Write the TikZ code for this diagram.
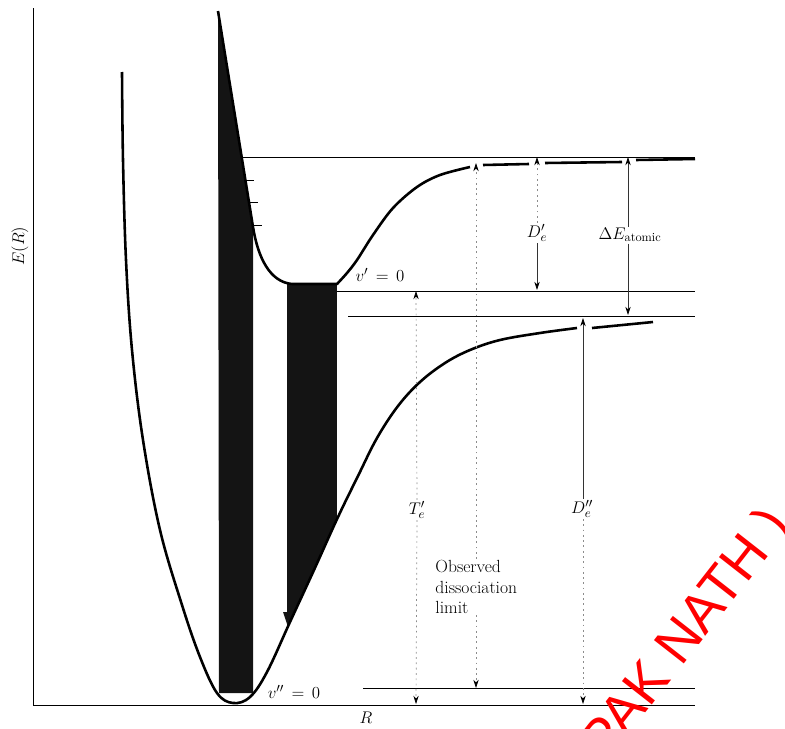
\documentclass[tikz,border=0pt]{standalone}
\usepackage{tikz}
\usetikzlibrary{arrows.meta,positioning,calc}
\usepackage{amsmath,amssymb}
\usepackage{fontspec}
\newfontfamily\marksans{Liberation Sans}
\definecolor{markred}{RGB}{255,0,0}
\definecolor{bandgray}{RGB}{20,20,20}

\begin{document}
\begin{tikzpicture}[x=0.03cm,y=-0.03cm,
    pes/.style={line width=2.2pt,line join=round},
    lvl/.style={line width=0.7pt},
    tip/.style={-{Stealth[length=7pt,width=4.5pt,color=black]}},
    faint/.style={line width=0.6pt,black!45,dash pattern=on 1.5pt off 3pt},
    solidarr/.style={line width=0.6pt,black!80},
    band/.style={fill=bandgray,draw=none},
    lbl/.style={font=\fontsize{15}{17.5}\selectfont,inner sep=1pt},
    axlbl/.style={font=\fontsize{14}{16}\selectfont,inner sep=1pt},
  ]
  \useasboundingbox (0,0) rectangle (785,728);
  \def\lowerpes{plot[smooth,tension=0.6] coordinates {(122,72) (123,160) (126,260)
      (132,350) (143,440) (160,530) (182,605) (200,657) (217,693) (233,703)
      (250,697) (267,672) (290,622) (314,570) (338,517) (358,476) (377,438)
      (398,406) (420,382) (445,363) (470,350) (500,340) (540,333) (577,328)}}

  % axes
  \coordinate (ytop) at (33,8);
  \coordinate (orig) at (33,705);
  \coordinate (xend) at (695,705);
  \draw[lvl] (ytop) -- (orig) -- (xend);
  \node[axlbl,rotate=90] (ylab) at (20,246) {$E(R)$};
  \node[axlbl] (xlab) at (366,718) {$R$};

  % absorption / emission bands
  \fill[band] (218,11) -- (253,227) -- (253,693) -- (219,693) -- cycle;
  \begin{scope}
    \clip \lowerpes -- (700,0) -- (100,0) -- cycle;
    \fill[band] (287,284) rectangle (337,700);
  \end{scope}
  \fill[band] (283,612) -- (293,612) -- (288,627) -- cycle;

  % potential curves
  \draw[pes] (218,11) -- (253,227) .. controls (258,258) and (270,282) .. (292,284)
    -- (337,284)
    -- plot[smooth,tension=0.55] coordinates {(337,284) (347,273) (357,260)
      (373,235) (393,208) (417,187) (440,175) (470,167)};
  \draw[pes] (483,165) -- (529,164);
  \draw[pes] (545,163) -- (622,162);
  \draw[pes] (636,160) -- (695,159);
  \draw[pes] \lowerpes;
  \draw[pes] (592,328) -- (653,322);

  % vibrational ticks
  \draw[lvl] (245,180) -- (254,180);
  \draw[lvl] (249,202) -- (258,202);
  \draw[lvl] (253,225) -- (262,225);

  % levels
  \coordinate (asyU) at (242,157);
  \coordinate (asyUe) at (695,157);
  \coordinate (minU) at (337,291);
  \coordinate (minUe) at (695,291);
  \coordinate (asyL) at (348,316);
  \coordinate (asyLe) at (695,316);
  \coordinate (vzero) at (363,688);
  \coordinate (vzeroe) at (695,688);
  \draw[lvl] (asyU) -- (asyUe);
  \draw[lvl] (minU) -- (minUe);
  \draw[lvl] (asyL) -- (asyLe);
  \draw[lvl] (vzero) -- (vzeroe);

  \node[lbl] (vp) at (380,275) {$v'\,=\,0$};
  \node[lbl] (vpp) at (294,692) {$v''\,=\,0$};

  % energy arrows
  \node[lbl,fill=white,align=left,anchor=west] (obs) at (434,587)
    {Observed\\dissociation\\limit};
  \coordinate (obsT) at (476,163);
  \coordinate (obsB) at (476,688);
  \draw[faint,tip] (obs.north -| obsT) -- (obsT);
  \draw[faint,tip] (obs.south -| obsB) -- (obsB);

  \node[lbl] (te) at (417,510) {$T'_e$};
  \coordinate (teT) at (416,291);
  \coordinate (teB) at (416,704);
  \draw[faint,tip] (te.north) -- (teT);
  \draw[faint,tip] (te.south) -- (teB);

  \node[lbl] (dpe) at (537,233) {$D'_e$};
  \coordinate (dpeT) at (537,157);
  \coordinate (dpeB) at (537,290);
  \draw[faint,tip] (dpe.north) -- (dpeT);
  \draw[solidarr,tip] (dpe.south) -- (dpeB);

  \node[lbl] (dea) at (630,235) {$\Delta E_{\text{atomic}}$};
  \coordinate (deaT) at (628,157);
  \coordinate (deaB) at (628,315);
  \draw[solidarr,tip] (dea.north -| deaT) -- (deaT);
  \draw[solidarr,tip] (dea.south -| deaB) -- (deaB);

  \node[lbl] (dppe) at (582,509) {$D''_e$};
  \coordinate (dppeT) at (583,318);
  \coordinate (dppeB) at (583,704);
  \draw[solidarr,tip] (dppe.north -| dppeT) -- (dppeT);
  \draw[faint,tip] (dppe.south -| dppeB) -- (dppeB);

  % watermark
  \begin{scope}
    \clip (0,0) rectangle (785,728);
    \node[text=markred,font=\marksans\fontsize{47}{50}\selectfont,rotate=52,
      anchor=base east,inner sep=0pt] (mark) at (792,526) {( DEEPAK NATH )};
  \end{scope}
\end{tikzpicture}
\end{document}
